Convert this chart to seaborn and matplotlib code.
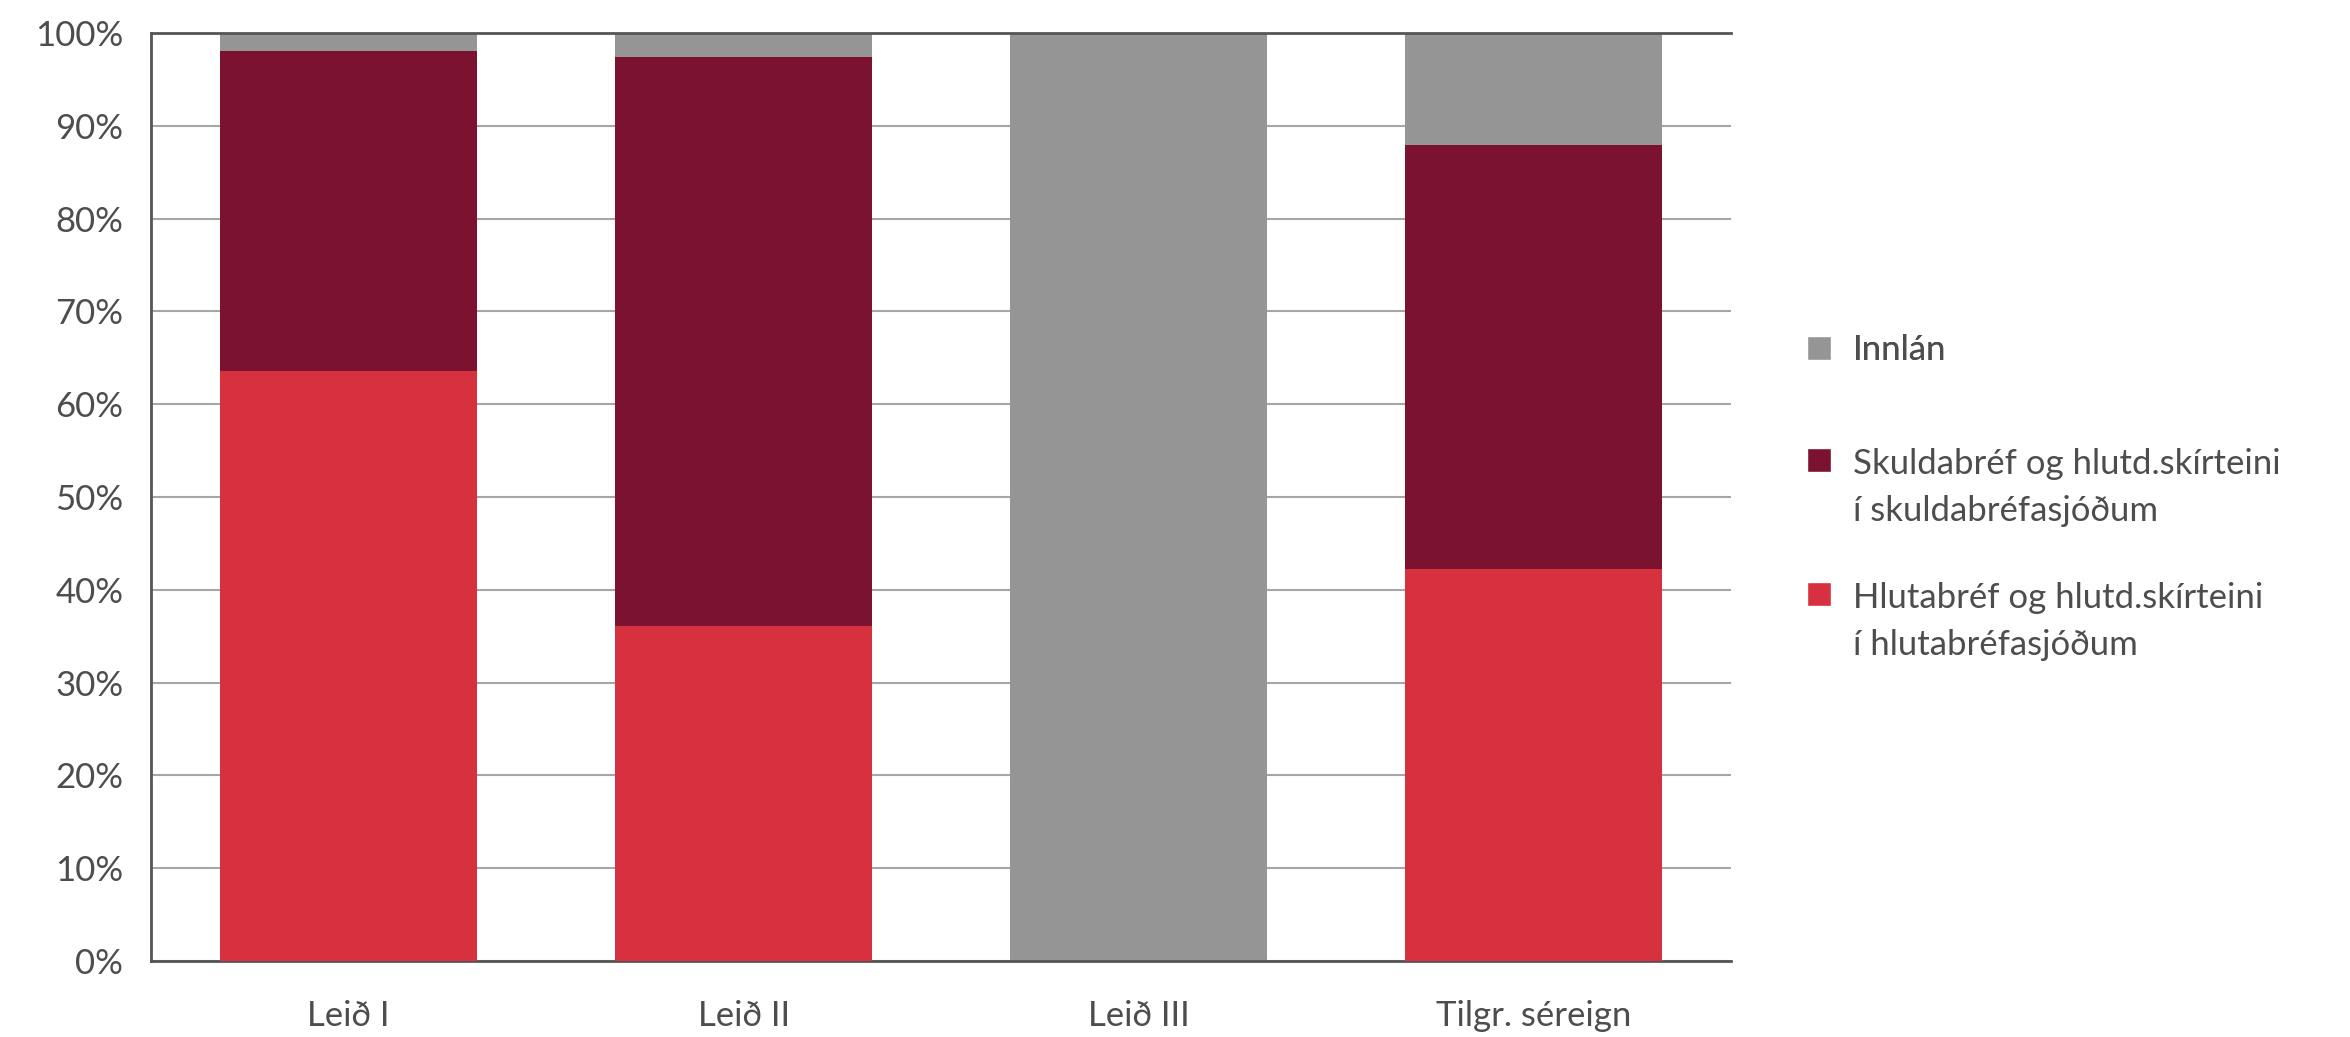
import matplotlib
matplotlib.use("Agg")
import matplotlib.pyplot as plt
from matplotlib.patches import Patch
import seaborn as sns
import pandas as pd

# values (percent of portfolio)
categories = ["Leið I", "Leið II", "Leið III", "Tilgr. séreign"]
hlutabref = [63.6, 36.1, 0.0, 42.2]
skuldabref = [34.5, 61.3, 0.0, 45.7]
innlan = [1.9, 2.6, 100.0, 12.1]

series_labels = ["Innlán",
                 "Skuldabréf og hlutd.skírteini\ní skuldabréfasjóðum",
                 "Hlutabréf og hlutd.skírteini\ní hlutabréfasjóðum"]
colors = {"innlan": "#959595", "skuld": "#7B1230", "hluta": "#D7303E"}
text_color = "#4d4d4d"
fs = 25

df = pd.DataFrame({"cat": categories, "hluta": hlutabref,
                   "skuld": skuldabref, "innlan": innlan})
# cumulative tops for layered (stacked) bars
df["top_skuld"] = df["hluta"] + df["skuld"]
df["top_innlan"] = df["top_skuld"] + df["innlan"]

sns.set_style("white")
plt.rcParams["font.family"] = ["Lato", "DejaVu Sans"]

fig = plt.figure(figsize=(23.5, 10.37), dpi=100)
ax = fig.add_axes([0.0643, 0.0733, 0.6723, 0.8949])

bar_kw = dict(width=0.65, saturation=1, ax=ax, linewidth=0, edgecolor="none")
sns.barplot(data=df, x="cat", y="top_innlan", color=colors["innlan"], zorder=2, **bar_kw)
sns.barplot(data=df, x="cat", y="top_skuld", color=colors["skuld"], zorder=3, **bar_kw)
sns.barplot(data=df, x="cat", y="hluta", color=colors["hluta"], zorder=4, **bar_kw)

ax.set_xlim(-0.5, 3.5)
ax.set_ylim(0, 100)
ax.set_yticks(range(0, 101, 10))
ax.set_yticklabels([f"{v}%" for v in range(0, 101, 10)])
ax.set_xlabel("")
ax.set_ylabel("")
ax.yaxis.grid(True, color="#a6a6a6", linewidth=1.5, zorder=0)
ax.set_axisbelow(True)
ax.tick_params(axis="both", length=0, labelsize=fs, colors=text_color)
ax.tick_params(axis="x", pad=28)
ax.tick_params(axis="y", pad=20)

for side in ["left", "top", "bottom"]:
    ax.spines[side].set_visible(True)
    ax.spines[side].set_color("#555555")
    ax.spines[side].set_linewidth(2)
ax.spines["right"].set_visible(False)

leg_kw = dict(frameon=False, fontsize=fs, labelcolor=text_color, borderpad=0,
              borderaxespad=0, handlelength=0.69, handleheight=0.69,
              handletextpad=0.62)

# single-line entry
leg1 = fig.legend([Patch(facecolor=colors["innlan"])], series_labels[:1],
                  loc="center left", bbox_to_anchor=(0.769, 1 - 350 / 1037), **leg_kw)

# two-line entries, square aligned with the first line
leg2 = fig.legend([Patch(facecolor=colors["skuld"]), Patch(facecolor=colors["hluta"])],
                  series_labels[1:], loc="upper left",
                  bbox_to_anchor=(0.769, 1 - 448 / 1037), labelspacing=1.57, **leg_kw)
for t in leg2.get_texts():
    t.set_linespacing(1.58)
for col in leg2._legend_handle_box.get_children():
    for row in col.get_children():
        row.align = "top"
fig.add_artist(leg1)

fig.savefig("out.png", dpi=100)
